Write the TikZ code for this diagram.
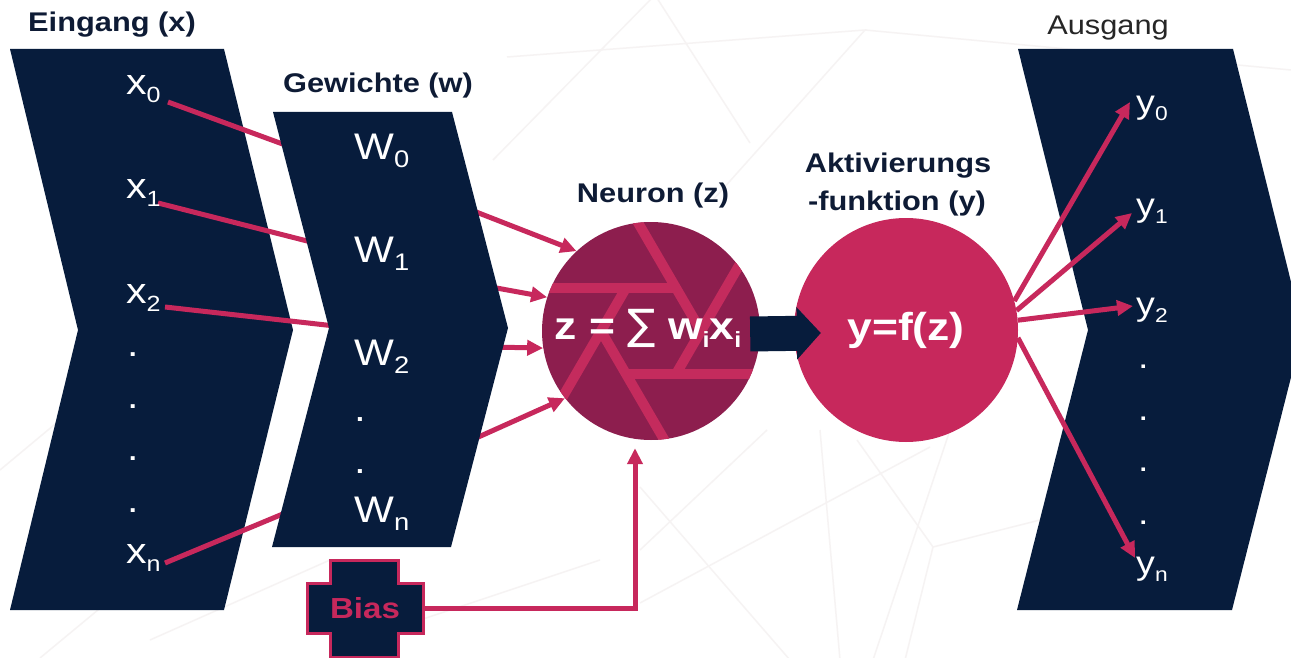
\documentclass[tikz,border=0pt]{standalone}
\usepackage{fontspec}
\setmainfont{Liberation Sans}[FakeStretch=1.14]
\newfontfamily\djv{DejaVu Sans}
\usetikzlibrary{arrows.meta,calc}
\definecolor{navy}{HTML}{071C3C}
\definecolor{crim}{HTML}{C7285C}
\definecolor{maroon}{HTML}{8D1E4E}
\definecolor{stripe}{HTML}{C42B5D}
\definecolor{ttl}{HTML}{0E1B35}
\definecolor{faint}{HTML}{F6F3F3}
\newcommand\subX[1]{\raisebox{-8pt}{\fontsize{22}{22}\selectfont #1}}
\newcommand\subW[1]{\raisebox{-8pt}{\fontsize{24}{24}\selectfont #1}}
\newcommand\subY[1]{\raisebox{-7pt}{\fontsize{20}{20}\selectfont #1}}
\newcommand\subZ[1]{\raisebox{-8pt}{\fontsize{22}{22}\selectfont #1}}
\tikzset{
  chev/.style={fill=navy},
  ttlfont/.style={font=\fontsize{27}{30}\selectfont\bfseries, text=ttl, inner sep=0, anchor=base},
  xl/.style={font=\fontsize{36}{40}\selectfont, text=white, inner sep=0, anchor=base west},
  wl/.style={font=\fontsize{37}{40}\selectfont, text=white, inner sep=0, anchor=base west},
  yl/.style={font=\fontsize{33}{36}\selectfont, text=white, inner sep=0, anchor=base west},
  link/.style={draw=crim, line width=5pt},
  arr/.style={link, -{Triangle[length=16pt,width=15pt]}},
  bgline/.style={draw=faint, line width=1.5pt},
  stripeline/.style={draw=stripe, line width=10pt},
}
\begin{document}
\begin{tikzpicture}[x=1pt,y=-1pt]
\clip (0,0) rectangle (1291,658);
\fill[white] (0,0) rectangle (1291,658);
% faint background network
\draw[bgline] (493,160) -- (655,-5) -- (750,143);
\draw[bgline] (507,57) -- (865,30) -- (713,200);
\draw[bgline] (865,30) -- (1291,70);
\draw[bgline] (640,487) -- (790,660);
\draw[bgline] (767,430) -- (640,550);
\draw[bgline] (820,430) -- (840,660);
\draw[bgline] (640,603) -- (930,447);
\draw[bgline] (857,440) -- (933,547) -- (1040,520);
\draw[bgline] (950,430) -- (873,660);
\draw[bgline] (933,547) -- (905,660);
\draw[bgline] (0,470) -- (60,420);
\draw[bgline] (40,658) -- (110,600);
\draw[bgline] (150,640) -- (330,560);
\draw[bgline] (420,620) -- (600,560);

% input chevron
\fill[chev] (10,49) -- (224,49) -- (293,330) -- (224,610) -- (10,610) -- (78,330) -- cycle;

% neuron circle with aperture stripes
\node[circle, fill=maroon, minimum size=218pt, inner sep=0] (neuron) at (651,331) {};
\coordinate (h0) at (701,331);
\coordinate (h1) at (676,374);
\coordinate (h2) at (626,374);
\coordinate (h3) at (601,331);
\coordinate (h4) at (626,288);
\coordinate (h5) at (676,288);
\begin{scope}
  \clip (651,331) circle (109pt);
  \draw[stripeline] (h5) -- ($(h5)!6!(h4)$);
  \draw[stripeline] (h4) -- ($(h4)!6!(h3)$);
  \draw[stripeline] (h3) -- ($(h3)!6!(h2)$);
  \draw[stripeline] (h2) -- ($(h2)!6!(h1)$);
  \draw[stripeline] (h1) -- ($(h1)!6!(h0)$);
  \draw[stripeline] (h0) -- ($(h0)!6!(h5)$);
\end{scope}

% input -> weight links
\coordinate (s0) at (168,102); \coordinate (e0) at (290,146.7);
\coordinate (s1) at (158,203); \coordinate (e1) at (315,243);
\coordinate (s2) at (165,307); \coordinate (e2) at (335,326);
\coordinate (sn) at (165,563); \coordinate (en) at (290,511);
\draw[link] (s0) -- (e0);
\draw[link] (s1) -- (e1);
\draw[link] (s2) -- (e2);
\draw[link] (sn) -- (en);

% weight -> neuron arrows
\coordinate (w0s) at (460,205.7);
\coordinate (w1s) at (480,285);
\coordinate (w2s) at (490,347);
\coordinate (w3s) at (465,443);
\draw[arr] (w0s) -- (neuron.133);
\draw[arr] (w1s) -- (neuron.162);
\draw[arr] (w2s) -- (neuron.189);
\draw[arr] (w3s) -- (neuron.218);

% weight chevron
\fill[chev] (273,112) -- (452,112) -- (508,328) -- (451,547) -- (272,547) -- (329,328) -- cycle;

% input labels
\node[xl] (x0) at (126,95) {x\subX{0}};
\node[xl] (x1) at (126,199) {x\subX{1}};
\node[xl] (x2) at (126,303) {x\subX{2}};
\node[xl] (xd1) at (127,356) {.};
\node[xl] (xd2) at (127,408) {.};
\node[xl] (xd3) at (127,460) {.};
\node[xl] (xd4) at (127,512) {.};
\node[xl] (xn) at (126,563) {x\subX{n}};

% weight labels
\node[wl] (W0) at (354,160) {W\subW{0}};
\node[wl] (W1) at (354,262) {W\subW{1}};
\node[wl] (W2) at (354,365) {W\subW{2}};
\node[wl] (Wd1) at (354,421) {.};
\node[wl] (Wd2) at (354,473) {.};
\node[wl] (Wn) at (354,522) {W\subW{n}};

% neuron formula
\node[font=\fontsize{39}{40}\selectfont\bfseries, text=white, inner sep=0, anchor=base] (zlabel) at (648,339)
  {z = {\djv\mdseries\fontsize{42}{42}\selectfont ∑} w\subZ{i}x\subZ{i}};

% activation circle
\node[circle, fill=crim, minimum size=224pt, inner sep=0, text=white,
      font=\fontsize{39}{40}\selectfont\bfseries] (act) at (906,330) {y=f(z)};

% block arrow neuron -> activation
\draw[navy, line width=35pt, -{Triangle[length=24pt,width=51pt]}]
  ([xshift=-10pt,yshift=-3pt]neuron.east) -- ([xshift=27pt,yshift=-3pt]act.west);

% output chevron
\fill[chev] (1018,49) -- (1233,49) -- (1303,330) -- (1232,610) -- (1017,610) -- (1088,330) -- cycle;

% output arrows
\coordinate (t0) at (1130,102);
\coordinate (t1) at (1132,213);
\coordinate (t2) at (1133,306);
\coordinate (tn) at (1135,558);
\draw[arr] (act.15) -- (t0);
\draw[arr] (act.10) -- (t1);
\draw[arr] (act.5) -- (t2);
\draw[arr] (act.-4) -- (tn);

% output labels
\node[yl] (y0) at (1136,114) {y\subY{0}};
\node[yl] (y1) at (1136,216) {y\subY{1}};
\node[yl] (y2) at (1136,315) {y\subY{2}};
\node[yl] (yd1) at (1138,368) {.};
\node[yl] (yd2) at (1138,420) {.};
\node[yl] (yd3) at (1138,471) {.};
\node[yl] (yd4) at (1138,524) {.};
\node[yl] (yn) at (1136,574) {y\subY{n}};

% bias
\draw[fill=navy, draw=crim, line width=3pt]
  (330,560) -- (398,560) -- (398,583) -- (423,583) -- (423,633) -- (398,633)
  -- (398,657) -- (330,657) -- (330,633) -- (307,633) -- (307,583) -- (330,583) -- cycle;
\node[minimum width=116pt, minimum height=50pt, inner sep=0, text=crim,
      font=\fontsize{29}{32}\selectfont\bfseries] (bias) at (365,608) {Bias};
\draw[arr] (bias.east) -| ([xshift=-16pt,yshift=-8pt]neuron.south);

% titles
\node[ttlfont] (tin) at (112,32) {Eingang (x)};
\node[ttlfont] (tw) at (378,93) {Gewichte (w)};
\node[ttlfont] (tn) at (653,203) {Neuron (z)};
\node[ttlfont] (ta1) at (898,172) {Aktivierungs};
\node[ttlfont] (ta2) at (897,211) {-funktion (y)};
\node[ttlfont, font=\fontsize{27}{30}\selectfont, text=black!85] (tout) at (1108,35) {Ausgang};
\end{tikzpicture}
\end{document}
